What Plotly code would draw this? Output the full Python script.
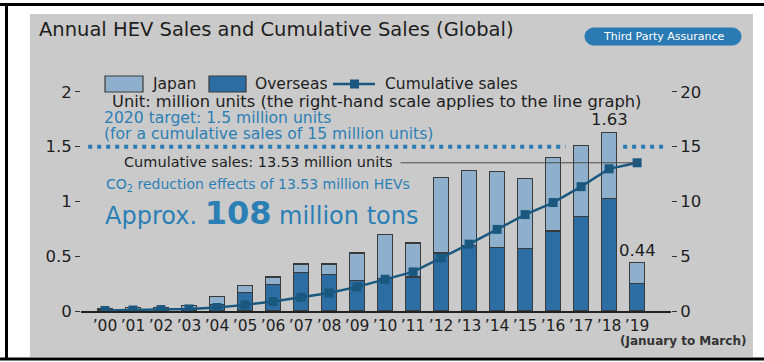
import plotly.graph_objects as go

# ---- data (million units) ----
years = ["’00", "’01", "’02", "’03", "’04", "’05", "’06", "’07", "’08", "’09",
         "’10", "’11", "’12", "’13", "’14", "’15", "’16", "’17", "’18", "’19"]
overseas = [0.01, 0.01, 0.015, 0.02, 0.06, 0.17, 0.24, 0.35, 0.33, 0.28,
            0.30, 0.31, 0.53, 0.60, 0.58, 0.57, 0.73, 0.86, 1.03, 0.25]
japan = [0.015, 0.02, 0.02, 0.03, 0.07, 0.06, 0.07, 0.08, 0.10, 0.25,
         0.40, 0.31, 0.69, 0.68, 0.69, 0.64, 0.67, 0.65, 0.60, 0.19]
cumulative = [0.05, 0.09, 0.13, 0.19, 0.32, 0.56, 0.87, 1.25, 1.65, 2.20,
              2.90, 3.57, 4.85, 6.10, 7.45, 8.80, 9.90, 11.35, 12.98, 13.53]
target_annual = 1.5          # left scale
target_cumulative = 15       # right scale
left_ticks = [0, 0.5, 1, 1.5, 2]
left_tick_text = ["0", "0.5", "1", "1.5", "2"]
right_ticks = [0, 5, 10, 15, 20]
right_tick_text = ["0", "5", "10", "15", "20"]
labelled_years = [18, 19]

# ---- styling ----
W, H = 764, 362
L, R, T, B = 81, 93, 70, 51
PW, PH = W - L - R, H - T - B
FONT = "DejaVu Sans, Verdana, sans-serif"
C_JAPAN = "#8fb0cc"
C_OVER = "#2c6da4"
C_LINE = "#1b587f"
C_OUTLINE = "#3a3a3a"
C_BLUE_TXT = "#2b7fb5"
C_BG = "#cacaca"
C_TEXT = "#1e1e1e"


def px(x):
    return (x - L) / PW


def py(y):
    return (H - B - y) / PH


n = len(years)
xs = list(range(n))

fig = go.Figure()
fig.add_trace(go.Bar(x=xs, y=overseas, name="Overseas", width=0.52,
                     marker=dict(color=C_OVER, line=dict(color=C_OUTLINE, width=1.2)),
                     showlegend=False))
fig.add_trace(go.Bar(x=xs, y=japan, name="Japan", width=0.52,
                     marker=dict(color=C_JAPAN, line=dict(color=C_OUTLINE, width=1.2)),
                     showlegend=False))
fig.add_trace(go.Scatter(x=xs, y=cumulative, name="Cumulative sales", yaxis="y2",
                         mode="lines+markers",
                         line=dict(color=C_LINE, width=2.5),
                         marker=dict(symbol="square", size=9, color=C_LINE),
                         showlegend=False))

shapes = []
# panel background and frame
shapes.append(dict(type="rect", xref="paper", yref="paper", layer="below",
                   x0=px(30), x1=px(753), y0=py(357), y1=py(14),
                   fillcolor=C_BG, line=dict(width=0)))
shapes.append(dict(type="line", xref="paper", yref="paper",
                   x0=px(0), x1=px(764), y0=py(4.5), y1=py(4.5),
                   line=dict(color="#000", width=3)))
shapes.append(dict(type="line", xref="paper", yref="paper",
                   x0=px(0), x1=px(764), y0=py(359), y1=py(359),
                   line=dict(color="#000", width=3)))
shapes.append(dict(type="line", xref="paper", yref="paper",
                   x0=px(6.5), x1=px(6.5), y0=py(3), y1=py(360),
                   line=dict(color="#000", width=3)))

# "Third Party Assurance" pill
bx0, bx1, by0, by1 = 585, 741, 28, 45
r = (by1 - by0) / 2
k = 0.5523 * r
path = (f"M{px(bx0 + r)},{py(by0)} L{px(bx1 - r)},{py(by0)} "
        f"C{px(bx1 - r + k)},{py(by0)} {px(bx1)},{py(by0 + r - k)} {px(bx1)},{py(by0 + r)} "
        f"C{px(bx1)},{py(by0 + r + k)} {px(bx1 - r + k)},{py(by1)} {px(bx1 - r)},{py(by1)} "
        f"L{px(bx0 + r)},{py(by1)} "
        f"C{px(bx0 + r - k)},{py(by1)} {px(bx0)},{py(by0 + r + k)} {px(bx0)},{py(by0 + r)} "
        f"C{px(bx0)},{py(by0 + r - k)} {px(bx0 + r - k)},{py(by0)} {px(bx0 + r)},{py(by0)} Z")
shapes.append(dict(type="path", xref="paper", yref="paper", path=path,
                   fillcolor="#2a7ab4", line=dict(color="#2a7ab4", width=1)))

# legend swatches
shapes.append(dict(type="rect", xref="paper", yref="paper",
                   x0=px(105), x1=px(143), y0=py(92), y1=py(76),
                   fillcolor=C_JAPAN, line=dict(color=C_OUTLINE, width=1.2)))
shapes.append(dict(type="rect", xref="paper", yref="paper",
                   x0=px(209), x1=px(246), y0=py(92), y1=py(76),
                   fillcolor=C_OVER, line=dict(color=C_OUTLINE, width=1.2)))
shapes.append(dict(type="line", xref="paper", yref="paper",
                   x0=px(333), x1=px(375), y0=py(84), y1=py(84),
                   line=dict(color=C_LINE, width=2.5)))
shapes.append(dict(type="rect", xref="paper", yref="paper",
                   x0=px(350), x1=px(359), y0=py(88.5), y1=py(79.5),
                   fillcolor=C_LINE, line=dict(width=0)))

# 2020 target (dotted), broken around the tallest bars
for xa, xb in [(-0.6, 16.45), (18.5, 20.05)]:
    shapes.append(dict(type="line", xref="x", yref="y",
                       x0=xa, x1=xb, y0=target_annual, y1=target_annual,
                       line=dict(color="#2a7ab4", width=4, dash="4px,5px")))

# cumulative leader line
shapes.append(dict(type="line", xref="x", yref="y2",
                   x0=10.55, x1=n - 1, y0=cumulative[-1], y1=cumulative[-1],
                   line=dict(color="#4a4a4a", width=1)))

ann = []


def text(x, y, s, size, color=C_TEXT, xanchor="left", **kw):
    ann.append(dict(xref="paper", yref="paper", x=px(x), y=py(y), text=s,
                    showarrow=False, xanchor=xanchor, yanchor="middle",
                    font=dict(family=FONT, size=size, color=color), **kw))


text(37, 30, "Annual HEV Sales and Cumulative Sales (Global)", 19.5)
text(664, 36.5, "Third Party Assurance", 11, "#ffffff", xanchor="center")
text(150, 83.5, "Japan", 15.5)
text(253, 83.5, "Overseas", 15.5)
text(383, 83.5, "Cumulative sales", 15.5)
text(110, 101, "Unit: million units (the right-hand scale applies to the line graph)", 16.3)
text(102, 118.5, "2020 target: 1.5 million units", 15.6, C_BLUE_TXT)
text(102, 133.5, "(for a cumulative sales of 15 million units)", 15.6, C_BLUE_TXT)
text(122, 162, "Cumulative sales: 13.53 million units", 14.5)
text(104, 185, "CO<sub>2</sub> reduction effects of 13.53 million HEVs", 14, C_BLUE_TXT)
text(103, 213, "Approx. <b><span style='font-size:32px'>108</span></b> million tons", 24, C_BLUE_TXT)
text(683, 341, "<b>(January to March)</b>", 12, "#333333", xanchor="center")

for i in labelled_years:
    total = round(japan[i] + overseas[i], 2)
    ann.append(dict(xref="x", yref="y", x=i, y=total, text=f"{total:.2f}",
                    showarrow=False, yanchor="bottom", yshift=1,
                    font=dict(family=FONT, size=16.5, color=C_TEXT)))

fig.update_layout(
    width=W, height=H,
    margin=dict(l=L, r=R, t=T, b=B, pad=0),
    paper_bgcolor="#ffffff", plot_bgcolor="rgba(0,0,0,0)",
    barmode="stack", bargap=0.45,
    font=dict(family=FONT, size=16, color=C_TEXT),
    xaxis=dict(range=[-0.857, 20.21], tickmode="array", tickvals=xs, ticktext=years,
               showgrid=False, zeroline=False, showline=True, linecolor="#222",
               linewidth=1.5, ticks="", tickfont=dict(size=15.5, color=C_TEXT)),
    yaxis=dict(range=[0, 2.2], tickmode="array", tickvals=left_ticks,
               ticktext=left_tick_text, showgrid=False, zeroline=False,
               showline=False, ticks="outside", ticklen=5, tickwidth=1,
               tickcolor="#333", tickfont=dict(size=16.5, color=C_TEXT)),
    yaxis2=dict(range=[0, 22], overlaying="y", side="right", tickmode="array",
                tickvals=right_ticks, ticktext=right_tick_text, showgrid=False,
                zeroline=False, showline=False, ticks="outside", ticklen=5,
                tickwidth=1, tickcolor="#333", tickfont=dict(size=16.5, color=C_TEXT)),
    shapes=shapes, annotations=ann, showlegend=False,
)

fig.write_html("out.html")
